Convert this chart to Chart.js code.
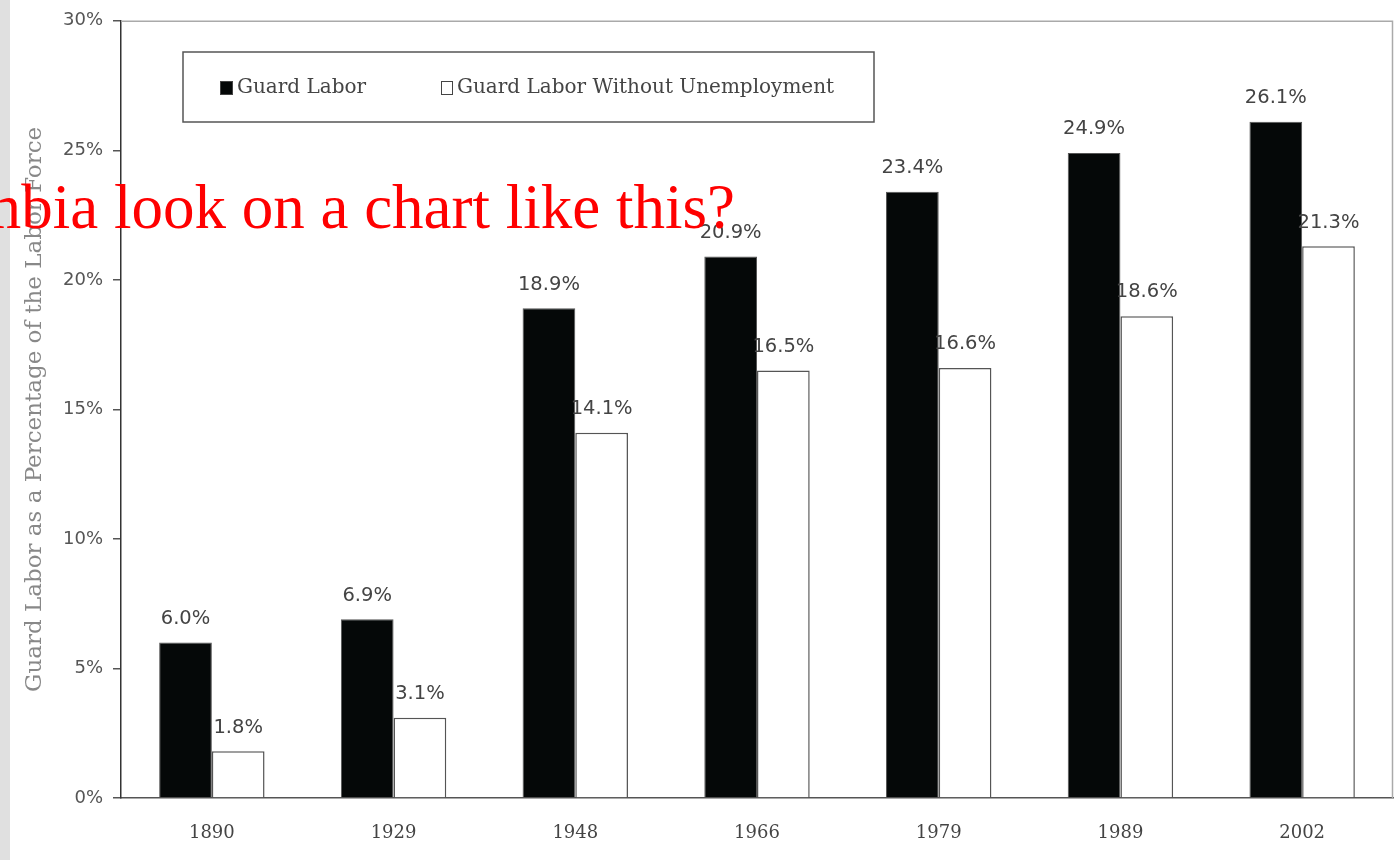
<!DOCTYPE html>
<html>
<head>
<meta charset="utf-8">
<script src="https://cdn.jsdelivr.net/npm/chart.js@4.4.1/dist/chart.umd.min.js"></script>
<style>
html,body{margin:0;padding:0;background:#fff;overflow:hidden;}
#wrap{position:absolute;left:0;top:0;width:1397px;height:860px;}
</style>
</head>
<body>
<div id="wrap"><canvas id="c" width="1397" height="860"></canvas></div>
<script>
const categories = ['1890','1929','1948','1966','1979','1989','2002'];
const guardLabor = [6.0, 6.9, 18.9, 20.9, 23.4, 24.9, 26.1];
const guardLaborNoUnemp = [1.8, 3.1, 14.1, 16.5, 16.6, 18.6, 21.3];
const seriesNames = ['Guard Labor', 'Guard Labor Without Unemployment'];
const yTicks = [0, 5, 10, 15, 20, 25, 30];
const yTitle = 'Guard Labor as a Percentage of the Labor Force';
const overlayText = 'How would Colombia look on a chart like this?';

const serif = '"DejaVu Serif", "Liberation Serif", serif';
const numFont = '"DejaVu Sans", "Liberation Sans", sans-serif';

const decor = {
  id: 'decor',
  beforeDraw(chart) {
    const ctx = chart.ctx;
    ctx.save();
    ctx.fillStyle = '#fff';
    ctx.fillRect(0, 0, chart.width, chart.height);
    ctx.fillStyle = '#e0e0e0';
    ctx.fillRect(0, 0, 10, chart.height);
    ctx.restore();
  },
  afterDatasetsDraw(chart) {
    const ctx = chart.ctx;
    const a = chart.chartArea;
    ctx.save();
    // top and right frame
    ctx.strokeStyle = '#aaa';
    ctx.lineWidth = 1.5;
    ctx.beginPath();
    ctx.moveTo(a.left, a.top + 0.5);
    ctx.lineTo(a.right - 0.5, a.top + 0.5);
    ctx.lineTo(a.right - 0.5, a.bottom);
    ctx.stroke();
    // value labels
    ctx.font = '19.5px ' + numFont;
    ctx.fillStyle = '#444';
    ctx.textAlign = 'center';
    ctx.textBaseline = 'bottom';
    chart.data.datasets.forEach((ds, i) => {
      const meta = chart.getDatasetMeta(i);
      meta.data.forEach((bar, j) => {
        ctx.fillText(ds.data[j].toFixed(1) + '%', bar.x, bar.y - 14);
      });
    });
    // legend box
    ctx.strokeStyle = '#555';
    ctx.lineWidth = 1.5;
    ctx.strokeRect(183, 52, 691, 70);
    ctx.font = '20px ' + serif;
    ctx.textAlign = 'left';
    ctx.textBaseline = 'middle';
    const items = [{x: 220, w: 13}, {x: 441, w: 12}];
    chart.data.datasets.forEach((ds, i) => {
      const it = items[i];
      ctx.fillStyle = ds.backgroundColor;
      ctx.fillRect(it.x, 81, it.w, 14);
      ctx.strokeStyle = '#444';
      ctx.lineWidth = 1;
      ctx.strokeRect(it.x + 0.5, 81.5, it.w - 1, 13);
      ctx.fillStyle = '#444';
      ctx.fillText(ds.label, it.x + it.w + 4, 88);
    });
    ctx.restore();
  },
  afterDraw(chart) {
    const ctx = chart.ctx;
    ctx.save();
    ctx.font = '63px "Liberation Serif", serif';
    ctx.fillStyle = '#ff0000';
    ctx.textAlign = 'right';
    ctx.textBaseline = 'alphabetic';
    ctx.fillText(overlayText, 735, 228);
    ctx.restore();
  }
};

new Chart(document.getElementById('c'), {
  type: 'bar',
  data: {
    labels: categories,
    datasets: [
      {label: seriesNames[0], data: guardLabor, backgroundColor: '#050808', borderColor: '#555', borderWidth: 1},
      {label: seriesNames[1], data: guardLaborNoUnemp, backgroundColor: '#ffffff', borderColor: '#555', borderWidth: 1.5}
    ]
  },
  options: {
    responsive: false,
    animation: false,
    devicePixelRatio: 1,
    layout: {padding: {top: 18, right: 4, left: 0, bottom: 0}},
    plugins: {legend: {display: false}, tooltip: {enabled: false}},
    datasets: {bar: {barPercentage: 1, categoryPercentage: 0.58}},
    scales: {
      x: {
        grid: {display: false, drawTicks: false},
        border: {color: '#555', width: 1.5},
        ticks: {font: {family: serif, size: 18}, color: '#444', padding: 25},
        afterFit(s) { s.height = 62; }
      },
      y: {
        min: 0, max: 30,
        afterBuildTicks(s) { s.ticks = yTicks.map(v => ({value: v})); },
        grid: {drawOnChartArea: false, drawTicks: true, tickLength: 8, color: '#555', lineWidth: 1.5},
        border: {color: '#333', width: 1.5},
        ticks: {font: {family: numFont, size: 18}, color: '#555', padding: 10, callback: v => v + '%'},
        title: {display: true, text: yTitle, font: {family: serif, size: 23}, color: '#888', padding: {top: 21, bottom: 0}},
        afterFit(s) { s.width = 121; }
      }
    }
  },
  plugins: [decor]
});
</script>
</body>
</html>
